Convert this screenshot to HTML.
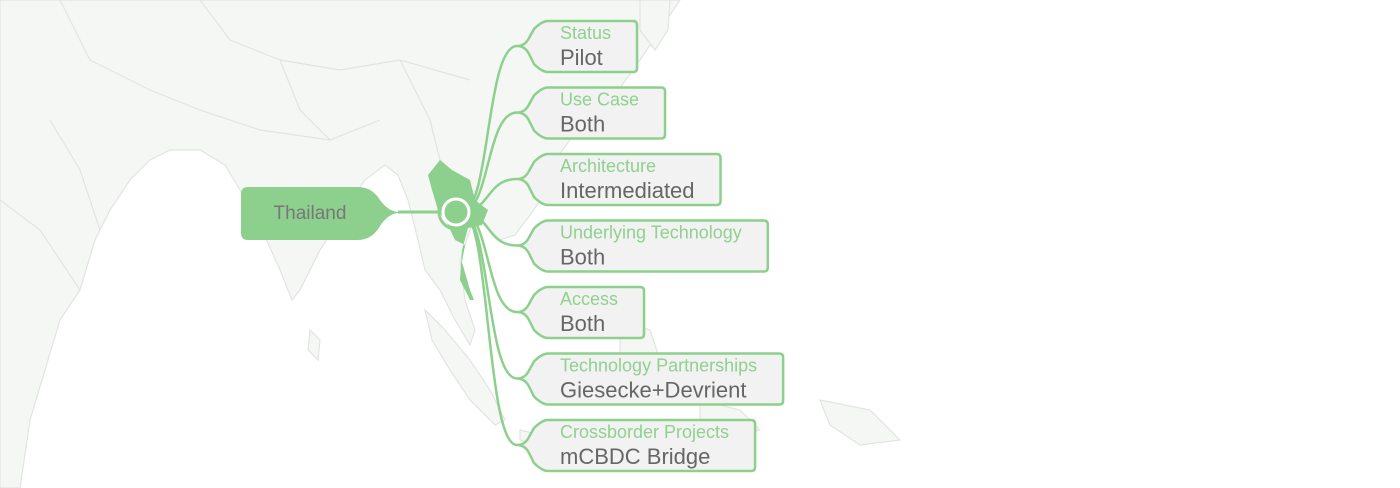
<!DOCTYPE html>
<html><head><meta charset="utf-8">
<style>
html,body{margin:0;padding:0;background:#fff;}
#wrap{position:relative;width:1400px;height:488px;overflow:hidden;font-family:"Liberation Sans",sans-serif;}
svg{position:absolute;left:0;top:0;}
.cat{font-size:18px;fill:#8fd18f;}
.val{font-size:22px;fill:#666;}
</style></head>
<body>
<div id="wrap">
<svg width="1400" height="488" viewBox="0 0 1400 488">
 <g fill="#f5f7f5" stroke="#e2e4e2" stroke-width="1.2">
  <path d="M0,0 L680,0 L660,30 L640,60 L615,95 L595,120 L570,140 L555,160 L548,190 L530,215 L515,235 L500,240 L490,230 L478,215 L470,230 L460,260 L465,300 L475,330 L470,345 L455,320 L440,290 L425,270 L418,240 L408,200 L398,175 L385,165 L365,180 L345,210 L320,250 L300,290 L292,300 L280,270 L262,230 L240,190 L225,165 L200,150 L170,150 L150,160 L130,180 L110,210 L95,240 L80,290 L60,320 L45,370 L30,420 L20,488 L0,488 Z"/>
  <path d="M425,310 L445,330 L470,360 L490,390 L505,420 L495,425 L470,400 L450,370 L432,340 Z"/>
  <path d="M520,430 L560,440 L600,448 L590,455 L550,450 L520,440 Z"/>
  <path d="M620,320 L650,330 L660,360 L640,380 L620,360 Z"/>
  <path d="M700,400 L740,410 L760,430 L720,440 L700,420 Z"/>
  <path d="M820,400 L870,410 L900,440 L860,445 L830,425 Z"/>
  <path d="M640,0 L670,0 L668,30 L655,50 L640,30 Z"/>
  <path d="M310,330 L320,340 L318,360 L308,350 Z"/>
  <g fill="none">
   <path d="M60,0 L90,60 L150,90 L200,110 L260,130 L330,140 L380,120"/>
   <path d="M200,0 L230,40 L280,60 L340,70 L400,60 L470,80"/>
   <path d="M280,60 L300,110 L330,140"/>
   <path d="M400,60 L430,120 L440,160 L470,190"/>
   <path d="M50,120 L80,170 L100,230"/>
   <path d="M0,200 L40,230 L80,290"/>
  </g>
 </g>
 <path fill="#8dd08d" d="M428,175 L440,160 L452,170 L470,180 L475,200 L488,210 L482,225 L468,228 L462,250 L460,280 L470,300 L474,300 L470,290 L462,262 L465,245 L455,240 L448,225 L438,210 L432,190 Z"/>
 <g fill="none" stroke="#8dd08d" stroke-width="2.5" id="lines"></g>
 <g>
  <path fill="#8dd08d" d="M248,187 L358,187 Q372,187 380,200 Q388,211 398,212 L440,212 L398,213 Q388,214 380,226 Q372,240 358,240 L248,240 Q241,240 241,233 L241,194 Q241,187 248,187 Z"/>
  <line x1="398" y1="212" x2="442" y2="212" stroke="#8dd08d" stroke-width="3"/>
  <text x="310" y="219" text-anchor="middle" style="font-size:19px;fill:#777">Thailand</text>
 </g>
 <circle cx="456" cy="212" r="13" fill="#8dd08d" stroke="#fff" stroke-width="3"/>
 <circle cx="456" cy="212" r="17" fill="none" stroke="#8dd08d" stroke-width="3"/>
 <g id="boxes"></g>
</svg>
</div>
<script>
const categories=["Status","Use Case","Architecture","Underlying Technology","Access","Technology Partnerships","Crossborder Projects"];
const values=["Pilot","Both","Intermediated","Both","Both","Giesecke+Devrient","mCBDC Bridge"];
const ns="http://www.w3.org/2000/svg";
const boxes=document.getElementById('boxes');
const lines=document.getElementById('lines');
const top0=21, step=66.5, h=51, bx=540, tx=517;
const meas=document.createElementNS(ns,'text');
meas.setAttribute('class','val');boxes.appendChild(meas);
categories.forEach((c,i)=>{
  const y=top0+i*step, cy=y+25;
  meas.setAttribute('class','val');meas.textContent=values[i];const w1=meas.getComputedTextLength();
  meas.setAttribute('class','cat');meas.textContent=c;const w2=meas.getComputedTextLength();
  const w=Math.max(w1,w2)+46;
  const g=document.createElementNS(ns,'g');
  
  
  const p=document.createElementNS(ns,'path');
  const r=bx+w;
  p.setAttribute('d',`M${tx},${cy} Q${tx+8},${cy} ${tx+12},${cy-8} L${bx-6},${y+8} Q${bx+2},${y} ${bx+8},${y} L${r-4},${y} Q${r},${y} ${r},${y+4} L${r},${y+h-4} Q${r},${y+h} ${r-4},${y+h} L${bx+8},${y+h} Q${bx+2},${y+h} ${bx-6},${y+h-8} L${tx+12},${cy+8} Q${tx+8},${cy} ${tx},${cy} Z`);
  p.setAttribute('fill','#f2f2f2');p.setAttribute('stroke','#8dd08d');p.setAttribute('stroke-width','2.5');
  g.appendChild(p);
  const t1=document.createElementNS(ns,'text');t1.setAttribute('class','cat');t1.setAttribute('x',560);t1.setAttribute('y',y+18);t1.textContent=c;
  
  
  const t2=document.createElementNS(ns,'text');t2.setAttribute('class','val');t2.setAttribute('x',560);t2.setAttribute('y',y+44);t2.textContent=values[i];
  
  
  g.appendChild(t1);g.appendChild(t2);boxes.appendChild(g);
  const l=document.createElementNS(ns,'path');
  l.setAttribute('d',`M462,212 C490,212 486,${cy} ${tx},${cy}`);
  
  
  lines.appendChild(l);
});
boxes.removeChild(meas);
</script>
</body></html>
